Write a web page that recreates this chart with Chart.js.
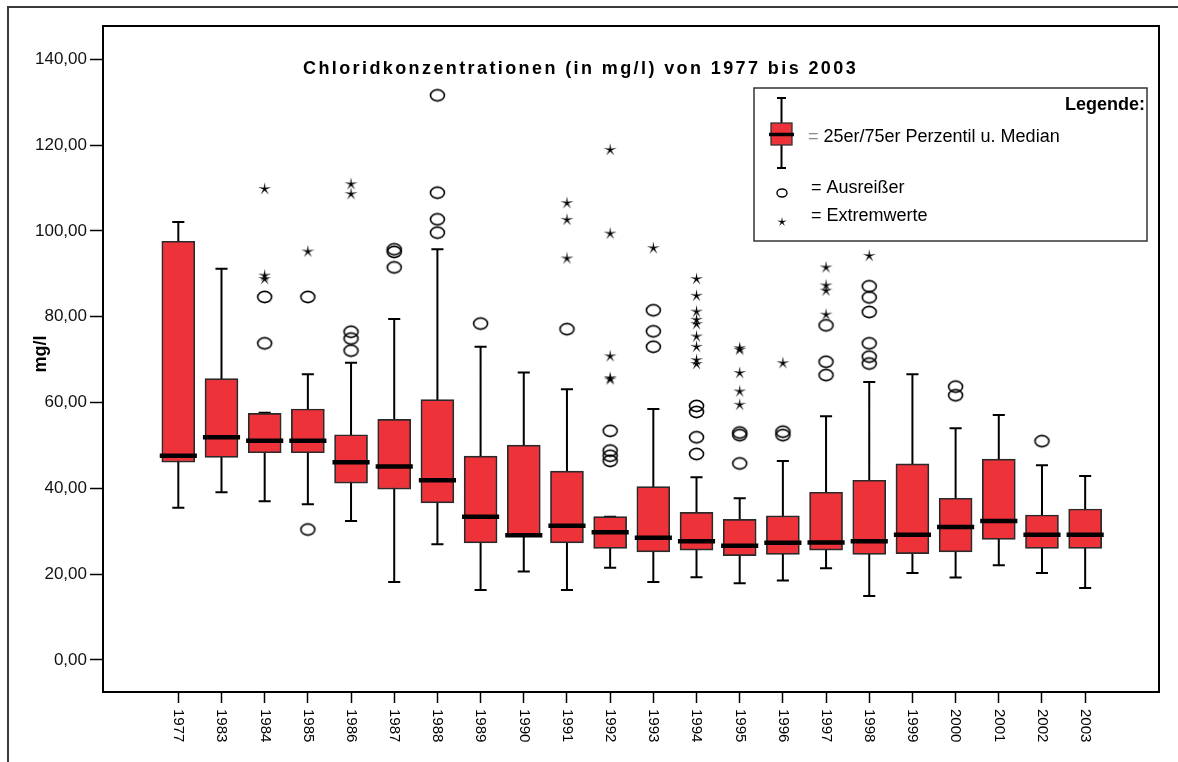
<!DOCTYPE html>
<html>
<head>
<meta charset="utf-8">
<script src="https://cdn.jsdelivr.net/npm/chart.js@4"></script>
<style>
  html, body { margin: 0; padding: 0; background: #fff; }
  #wrap { width: 1178px; height: 762px; position: relative; }
</style>
</head>
<body>
<div id="wrap"><canvas id="c"></canvas></div>
<script>
// ---- data ----
const years = ['1977','1983','1984','1985','1986','1987','1988','1989','1990','1991','1992','1993','1994','1995','1996','1997','1998','1999','2000','2001','2002','2003'];
const whiskerLow  = [35.5, 39.1, 37.0, 36.3, 32.4, 18.2, 27.0, 16.3, 20.6, 16.3, 21.5, 18.2, 19.3, 17.9, 18.5, 21.4, 14.9, 20.3, 19.2, 22.1, 20.3, 16.8];
const q1          = [46.1, 47.2, 48.3, 48.3, 41.2, 39.8, 36.6, 27.3, 29.0, 27.3, 26.0, 25.2, 25.6, 24.3, 24.6, 25.6, 24.6, 24.8, 25.2, 28.1, 26.0, 26.0];
const median      = [47.6, 51.9, 51.1, 51.1, 46.1, 45.1, 41.9, 33.4, 29.1, 31.3, 29.8, 28.5, 27.7, 26.6, 27.3, 27.4, 27.7, 29.2, 31.0, 32.4, 29.2, 29.2];
const q3          = [97.6, 65.6, 57.5, 58.5, 52.5, 56.1, 60.7, 47.5, 50.1, 44.0, 33.4, 40.4, 34.4, 32.8, 33.6, 39.1, 41.9, 45.7, 37.7, 46.8, 33.8, 35.2];
const whiskerHigh = [102.1, 91.2, 57.6, 66.6, 69.3, 79.5, 95.7, 73.0, 67.0, 63.1, 33.4, 58.5, 42.6, 37.7, 46.4, 56.8, 64.8, 66.6, 54.0, 57.1, 45.4, 42.9];
const outliers = [
  [], [], [84.6, 73.8], [84.6, 30.4], [76.5, 74.9, 72.1], [95.7, 95.1, 91.5],
  [131.6, 108.9, 102.7, 99.6], [78.4], [], [77.1], [53.4, 48.8, 47.6, 46.4],
  [81.5, 76.6, 73.0], [59.2, 57.8, 51.9, 48.0], [53.0, 52.4, 45.8], [53.2, 52.4],
  [78.0, 69.5, 66.4], [87.1, 84.5, 81.1, 73.8, 70.7, 69.1], [], [63.7, 61.7], [], [51.0], []
];
const extremes = [
  [], [], [109.9, 89.7, 88.9], [95.3], [111.0, 108.7], [], [], [], [],
  [106.6, 102.7, 93.7], [119.0, 99.5, 70.9, 65.8, 65.5], [96.1],
  [88.9, 85.0, 81.3, 79.4, 78.4, 75.5, 73.1, 70.0, 69.1],
  [72.8, 72.4, 67.0, 62.7, 59.6], [69.3], [91.6, 87.4, 86.2, 80.6], [94.3],
  [], [], [], [], []
];
const yTickValues = [0, 20, 40, 60, 80, 100, 120, 140];
const titleText = 'Chloridkonzentrationen (in mg/l) von 1977 bis 2003';
const yTitle = 'mg/l';
const legendTitle = 'Legende:';
const legendItems = ['= 25er/75er Perzentil u. Median', '= Ausreißer', '= Extremwerte'];

// ---- style ----
const RED = '#ee3239';
const FONT = "'Liberation Sans', Arial, Helvetica, sans-serif";
const CAP = 0.14;     // half cap width in category units
const MED = 0.43;     // half median width in category units

// ---- marker images ----
function ellipseImg(rx, ry, lw) {
  const c = document.createElement('canvas');
  c.width = Math.ceil(rx * 2 + lw * 2 + 1); c.height = Math.ceil(ry * 2 + lw * 2 + 1);
  const g = c.getContext('2d');
  g.strokeStyle = '#000'; g.lineWidth = lw;
  g.beginPath(); g.ellipse(c.width / 2, c.height / 2, rx, ry, 0, 0, Math.PI * 2); g.stroke();
  return c;
}
function drawStar(g, cx, cy, ro, ri) {
  g.beginPath();
  for (let k = 0; k < 10; k++) {
    const r = k % 2 === 0 ? ro : ri;
    const a = -Math.PI / 2 + k * Math.PI / 5;
    const px = cx + r * Math.cos(a), py = cy + r * Math.sin(a);
    if (k === 0) g.moveTo(px, py); else g.lineTo(px, py);
  }
  g.closePath(); g.fill();
}
function starImg(ro, ri) {
  const c = document.createElement('canvas');
  c.width = Math.ceil(ro * 2 + 3); c.height = Math.ceil(ro * 2 + 3);
  const g = c.getContext('2d');
  g.fillStyle = '#000';
  drawStar(g, c.width / 2, c.height / 2 + 0.5, ro, ri);
  return c;
}
const circleMarker = ellipseImg(7, 5.6, 1.6);
const starMarker = starImg(6.8, 1.5);

// ---- datasets built from arrays ----
const boxData = years.map((_, i) => ({ x: i, y: [q1[i], q3[i]] }));
const whiskerData = [];
years.forEach((_, i) => {
  whiskerData.push({ x: i, y: whiskerLow[i] }, { x: i, y: whiskerHigh[i] }, { x: i, y: null });
  whiskerData.push({ x: i - CAP, y: whiskerLow[i] }, { x: i + CAP, y: whiskerLow[i] }, { x: i, y: null });
  whiskerData.push({ x: i - CAP, y: whiskerHigh[i] }, { x: i + CAP, y: whiskerHigh[i] }, { x: i, y: null });
});
const medianData = [];
years.forEach((_, i) => {
  medianData.push({ x: i - MED, y: median[i] }, { x: i + MED, y: median[i] }, { x: i, y: null });
});
const outlierData = [];
outliers.forEach((arr, i) => arr.forEach(v => outlierData.push({ x: i, y: v })));
const extremeData = [];
extremes.forEach((arr, i) => arr.forEach(v => extremeData.push({ x: i, y: v })));

// ---- decoration plugin ----
const decor = {
  id: 'decor',
  beforeDraw(chart) {
    const ctx = chart.ctx;
    ctx.save();
    ctx.fillStyle = '#fff';
    ctx.fillRect(0, 0, chart.width, chart.height);
    ctx.restore();
  },
  afterDraw(chart) {
    const ctx = chart.ctx;
    const a = chart.chartArea;
    const xs = chart.scales.x;
    ctx.save();
    // outer frame
    ctx.strokeStyle = '#3a3a3a'; ctx.lineWidth = 2;
    ctx.beginPath(); ctx.moveTo(8, chart.height); ctx.lineTo(8, 7); ctx.lineTo(chart.width, 7); ctx.stroke();
    // plot frame
    ctx.strokeStyle = '#000'; ctx.lineWidth = 2;
    ctx.strokeRect(a.left, a.top, a.right - a.left, a.bottom - a.top);
    // title
    ctx.fillStyle = '#000';
    ctx.font = 'bold 18px ' + FONT;
    ctx.letterSpacing = '2.4px';
    ctx.textAlign = 'left'; ctx.textBaseline = 'middle';
    ctx.fillText(titleText, 303, 69);
    ctx.letterSpacing = '0px';
    // y axis title
    ctx.save();
    ctx.translate(41, 354); ctx.rotate(-Math.PI / 2);
    ctx.font = 'bold 18px ' + FONT; ctx.textAlign = 'center'; ctx.textBaseline = 'middle';
    ctx.fillText(yTitle, 0, 0);
    ctx.restore();
    // x tick labels (rotated clockwise)
    ctx.font = '15px ' + FONT;
    years.forEach((y, i) => {
      const px = xs.getPixelForValue(i);
      ctx.save();
      ctx.translate(px, 709); ctx.rotate(Math.PI / 2);
      ctx.textAlign = 'left'; ctx.textBaseline = 'middle';
      ctx.fillText(y, 0, 0);
      ctx.restore();
    });
    // legend box
    ctx.strokeStyle = '#333'; ctx.lineWidth = 1.5;
    ctx.fillStyle = '#fff';
    ctx.fillRect(754, 88, 393, 153);
    ctx.strokeRect(754, 88, 393, 153);
    ctx.fillStyle = '#000';
    ctx.font = 'bold 18px ' + FONT; ctx.textAlign = 'right'; ctx.textBaseline = 'middle';
    ctx.fillText(legendTitle, 1145, 105);
    // legend boxplot icon
    ctx.strokeStyle = '#000'; ctx.lineWidth = 2;
    ctx.beginPath();
    ctx.moveTo(781.5, 98); ctx.lineTo(781.5, 168);
    ctx.moveTo(777, 98); ctx.lineTo(786, 98);
    ctx.moveTo(777, 168); ctx.lineTo(786, 168);
    ctx.stroke();
    ctx.fillStyle = RED; ctx.fillRect(771, 123, 21, 22);
    ctx.strokeStyle = '#333'; ctx.lineWidth = 1.3; ctx.strokeRect(771, 123, 21, 22);
    ctx.strokeStyle = '#000'; ctx.lineWidth = 3.5;
    ctx.beginPath(); ctx.moveTo(769, 134.5); ctx.lineTo(794, 134.5); ctx.stroke();
    // legend markers
    ctx.lineWidth = 1.4;
    ctx.beginPath(); ctx.ellipse(782, 193, 5, 4, 0, 0, Math.PI * 2); ctx.stroke();
    ctx.fillStyle = '#000';
    drawStar(ctx, 782, 222, 5, 1.3);
    // legend texts
    ctx.font = '18px ' + FONT; ctx.textAlign = 'left'; ctx.textBaseline = 'middle';
    ctx.fillStyle = '#888';
    ctx.fillText('=', 808, 137);
    const eqW = ctx.measureText('= ').width;
    ctx.fillStyle = '#000';
    ctx.fillText(legendItems[0].slice(2), 808 + eqW, 137);
    ctx.fillText(legendItems[1], 811, 188);
    ctx.fillText(legendItems[2], 811, 216);
    ctx.restore();
  }
};

new Chart(document.getElementById('c'), {
  type: 'bar',
  data: {
    datasets: [
      { type: 'scatter', data: outlierData, pointStyle: circleMarker, pointRadius: 7, order: 0 },
      { type: 'scatter', data: extremeData, pointStyle: starMarker, pointRadius: 7, order: 0 },
      { type: 'line', data: medianData, borderColor: '#000', borderWidth: 4.5, pointRadius: 0, spanGaps: false, borderCapStyle: 'butt', order: 0 },
      { type: 'bar', data: boxData, backgroundColor: RED, borderColor: '#2a2a2a', borderWidth: 1.7, borderSkipped: false, barThickness: 33, grouped: false, order: 1 },
      { type: 'line', data: whiskerData, borderColor: '#000', borderWidth: 2, pointRadius: 0, spanGaps: false, borderCapStyle: 'butt', order: 2 }
    ]
  },
  options: {
    responsive: true,
    maintainAspectRatio: false,
    animation: false,
    devicePixelRatio: 1,
    layout: { padding: { left: 0, top: 26, right: 19, bottom: 0 } },
    plugins: { legend: { display: false }, tooltip: { enabled: false }, title: { display: false } },
    scales: {
      x: {
        type: 'linear', min: -1.744, max: 22.71, offset: false,
        afterBuildTicks: s => { s.ticks = years.map((_, i) => ({ value: i })); },
        afterFit: s => { s.height = 70; },
        ticks: { display: false },
        grid: { display: true, offset: false, drawOnChartArea: false, drawTicks: true, tickLength: 11, tickColor: '#000', tickWidth: 1.5 },
        border: { display: true, color: '#000', width: 2 }
      },
      y: {
        type: 'linear', min: -7.46, max: 147.76,
        afterBuildTicks: s => { s.ticks = yTickValues.map(v => ({ value: v })); },
        afterFit: s => { s.width = 103; },
        ticks: {
          color: '#111', padding: 3, font: { family: FONT, size: 17 },
          callback: v => v.toFixed(2).replace('.', ',')
        },
        grid: { display: true, drawOnChartArea: false, drawTicks: true, tickLength: 13, tickColor: '#000', tickWidth: 1.5 },
        border: { display: true, color: '#000', width: 2 }
      }
    }
  },
  plugins: [decor]
});
</script>
</body>
</html>
